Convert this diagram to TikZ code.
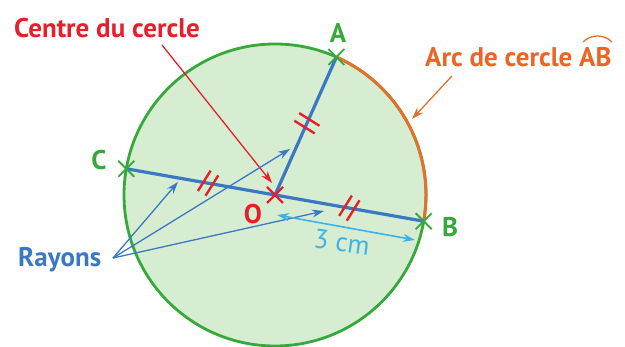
\documentclass[tikz,border=0pt]{standalone}
\usepackage{fontspec}
\setmainfont{PT Sans}
\usetikzlibrary{calc,arrows.meta}
\definecolor{cred}{HTML}{E5202A}
\definecolor{cgreen}{HTML}{36A93A}
\definecolor{cfill}{HTML}{D6EDD2}
\definecolor{cblue}{HTML}{3A78C4}
\definecolor{clblue}{HTML}{3FB2E8}
\definecolor{corange}{HTML}{EC6524}
\definecolor{carc}{HTML}{E2712C}
\tikzset{
  lbl/.style={font=\bfseries\fontsize{27}{27}\selectfont, inner sep=0pt},
  radius line/.style={cblue, line width=3.2pt},
  tickmark/.style={cred, line width=2.4pt},
  crossmark/.style={line width=1.8pt},
  callout/.style={line width=1.3pt, -{Stealth[length=12pt,width=8pt]}},
}
\begin{document}
\begin{tikzpicture}[x=1pt,y=1pt]
\useasboundingbox (0,0) rectangle (625,347);
\coordinate (O) at (275,152);
\coordinate (A) at ($(O)+(66:151)$);
\coordinate (B) at ($(O)+(-10:151)$);
\coordinate (C) at ($(O)+(170:151)$);
% circle
\fill[cfill] (O) circle[radius=151];
\draw[cgreen, line width=2.8pt] (O) circle[radius=151];
\draw[carc, line width=3pt] (A) arc[start angle=66, end angle=-10, radius=151];
% radii
\draw[radius line] (C) -- (B);
\draw[radius line] (O) -- (A);
% tick marks
\foreach \P/\f/\ang in {C/0.45/58, B/0.5/58, A/0.52/-32}{
  \coordinate (m) at ($(O)!\f!(\P)$);
  \draw[tickmark] ($(m)+(\ang+90:-4.5)+(\ang:-12)$) -- ($(m)+(\ang+90:-4.5)+(\ang:12)$);
  \draw[tickmark] ($(m)+(\ang+90:4.5)+(\ang:-12)$) -- ($(m)+(\ang+90:4.5)+(\ang:12)$);
}
% crosses
\foreach \P in {A,B,C}{
  \draw[cgreen, crossmark] ($(\P)+(-8,-8)$) -- ($(\P)+(8,8)$);
  \draw[cgreen, crossmark] ($(\P)+(-8,8)$) -- ($(\P)+(8,-8)$);
}
\draw[cred, crossmark, line width=2.2pt] ($(O)+(-8,-8)$) -- ($(O)+(8,8)$);
\draw[cred, crossmark, line width=2.2pt] ($(O)+(-8,8)$) -- ($(O)+(8,-8)$);
% labels
\node[lbl, text=cgreen] (lA) at (338,314) {A};
\node[lbl, text=cgreen] (lB) at (450,120) {B};
\node[lbl, text=cgreen] (lC) at (99,187) {C};
\node[lbl, text=cred] (lO) at (253,133) {O};
\node[lbl, text=cred, anchor=base west] (centre) at (14,309) {Centre du cercle};
\node[lbl, text=corange, anchor=base west] (arc) at (425,280) {Arc de cercle AB};
\node[lbl, text=cblue, anchor=base west] (ray) at (18,80) {Rayons};
\node[inner sep=0pt, text=clblue, font=\fontsize{27}{27}\selectfont, rotate=-8] (cm) at (342,105) {3 cm};
% arc symbol over AB
\draw[carc, line width=1.3pt] (583,305) .. controls (591,313) and (604,313) .. (612,305);
% callouts
\coordinate (c1) at (162,302);
\coordinate (c1e) at (272,164);
\draw[callout, cred] (c1) -- (c1e);
\coordinate (c2) at (452,271);
\coordinate (c2e) at (412,228);
\draw[callout, carc] (c2) -- (c2e);
\coordinate (r0) at (113,89);
\coordinate (r1) at (178,165);
\coordinate (r2) at (290,198);
\coordinate (r3) at (324,136);
\foreach \r in {r1,r2,r3}{
  \draw[callout, cblue] (r0) -- (\r);
}
\coordinate (d1) at (277,132);
\coordinate (d2) at (415,107);
\draw[clblue, line width=1.6pt, {Stealth[length=12pt,width=8pt]}-{Stealth[length=12pt,width=8pt]}] (d1) -- (d2);
\end{tikzpicture}
\end{document}
